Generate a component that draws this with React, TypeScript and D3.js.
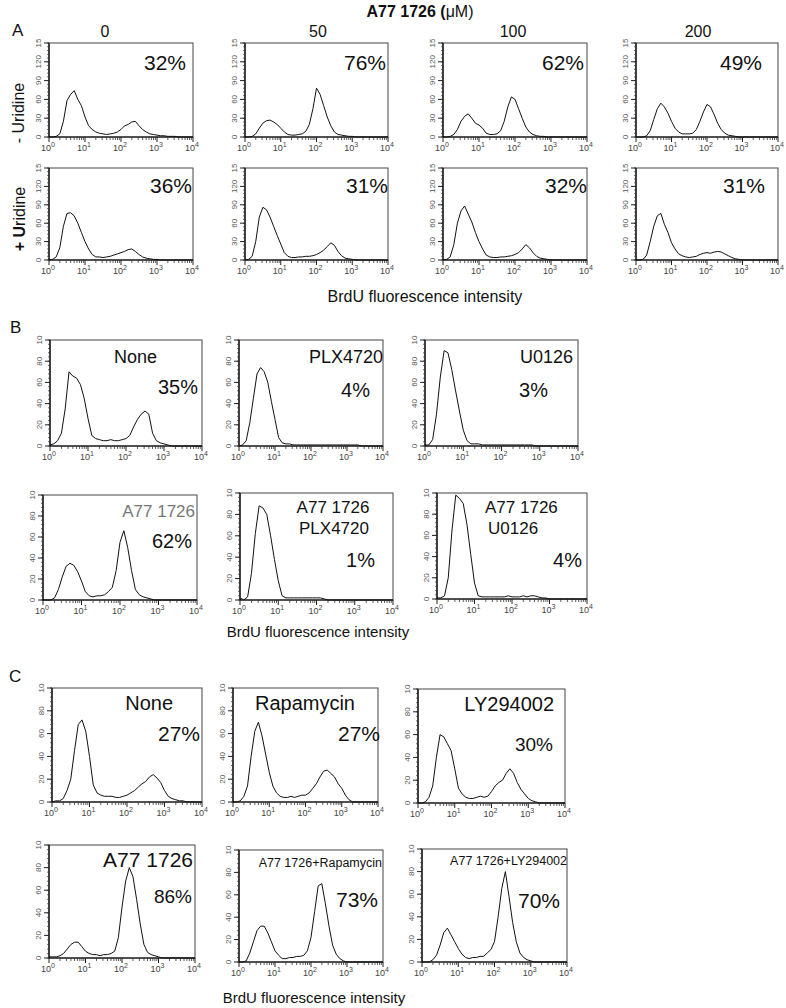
import React from 'react';
import * as d3 from 'd3';

const FONT = "'Liberation Sans', Arial, Helvetica, sans-serif";

// log10 of BrdU fluorescence intensity at which histogram counts are read
const BINS = [0, 0.1, 0.2, 0.3, 0.4, 0.5, 0.6, 0.7, 0.8, 0.9, 1.0, 1.1, 1.2, 1.3, 1.4, 1.5, 1.6, 1.7, 1.8, 1.9, 2.0, 2.1, 2.2, 2.3, 2.4, 2.5, 2.6, 2.7, 2.8, 2.9, 3.0, 3.1, 3.2, 3.3, 3.4, 3.5, 3.6, 3.7, 3.8, 3.9, 4.0];

const X_DECADES = [1, 10, 100, 1000, 10000];
const X_EXPONENTS = ['0', '1', '2', '3', '4'];
const Y_TICKS_A = [0, 30, 60, 90, 120, 150];
const Y_LABELS_A = ['0', '30', '60', '90', '120', '15'];
const Y_TICKS_BC = [0, 20, 40, 60, 80, 100];
const Y_LABELS_BC = ['0', '20', '40', '60', '80', '10'];

// Panel A: A77 1726 dose (µM) without / with uridine
const A_DOSES = ['0', '50', '100', '200'];
const A_minusU_0 = [0, 0, 1, 5, 25, 58, 68, 74, 60, 50, 32, 18, 12, 8, 6, 5, 4, 5, 6, 8, 12, 18, 20, 24, 25, 18, 12, 8, 5, 4, 3, 2, 2, 1, 1, 1, 0, 0, 0, 0, 0];
const A_minusU_50 = [0, 0, 1, 5, 14, 22, 26, 27, 24, 20, 14, 8, 4, 3, 3, 4, 5, 9, 20, 45, 78, 68, 50, 32, 18, 8, 4, 3, 2, 1, 1, 0, 0, 0, 0, 0, 0, 0, 0, 0, 0];
const A_minusU_100 = [0, 0, 1, 4, 12, 25, 33, 37, 30, 22, 19, 14, 6, 4, 4, 5, 10, 25, 48, 64, 60, 45, 30, 16, 8, 4, 2, 1, 1, 0, 0, 0, 0, 0, 0, 0, 0, 0, 0, 0, 0];
const A_minusU_200 = [0, 0, 0, 2, 10, 28, 45, 54, 48, 38, 25, 14, 8, 5, 5, 5, 6, 12, 25, 40, 52, 48, 36, 22, 12, 6, 3, 2, 1, 0, 0, 0, 0, 0, 0, 0, 0, 0, 0, 0, 0];
const A_plusU_0 = [0, 1, 5, 20, 55, 76, 77, 72, 60, 45, 30, 18, 9, 5, 5, 4, 5, 6, 8, 10, 12, 14, 17, 18, 14, 9, 5, 3, 2, 1, 1, 0, 0, 0, 0, 0, 0, 0, 0, 0, 0];
const A_plusU_50 = [0, 1, 6, 30, 70, 86, 82, 70, 55, 40, 26, 12, 6, 4, 4, 5, 5, 6, 6, 7, 9, 12, 16, 22, 28, 24, 14, 7, 3, 2, 1, 0, 0, 0, 0, 0, 0, 0, 0, 0, 0];
const A_plusU_100 = [0, 1, 5, 25, 60, 80, 88, 75, 62, 45, 30, 18, 8, 5, 4, 4, 5, 5, 6, 7, 9, 12, 18, 25, 20, 12, 6, 3, 2, 1, 0, 0, 0, 0, 0, 0, 0, 0, 0, 0, 0];
const A_plusU_200 = [0, 0, 1, 8, 30, 55, 72, 76, 58, 45, 28, 18, 10, 7, 5, 4, 5, 6, 9, 11, 12, 11, 13, 14, 13, 10, 7, 4, 2, 1, 0, 0, 0, 0, 0, 0, 0, 0, 0, 0, 0];
const A_PCT = ['32%', '76%', '62%', '49%', '36%', '31%', '32%', '31%'];

// Panel B: MEK / BRAF inhibitors
const B_None = [1, 2, 5, 12, 35, 70, 66, 64, 58, 45, 26, 10, 7, 6, 5, 5, 6, 5, 5, 6, 7, 10, 18, 25, 30, 33, 30, 12, 5, 3, 2, 1, 0, 0, 0, 0, 0, 0, 0, 0, 0];
const B_PLX = [0, 1, 5, 22, 45, 68, 74, 70, 60, 42, 25, 8, 3, 2, 2, 1, 1, 1, 1, 1, 1, 1, 1, 1, 1, 1, 1, 1, 1, 1, 1, 1, 1, 1, 0, 0, 0, 0, 0, 0, 0];
const B_U0126 = [1, 1, 6, 30, 65, 90, 88, 72, 52, 33, 15, 5, 2, 2, 2, 1, 1, 1, 1, 1, 1, 1, 1, 1, 1, 1, 1, 1, 1, 0, 0, 0, 0, 0, 0, 0, 0, 0, 0, 0, 0];
const B_A77 = [0, 0, 0, 2, 10, 22, 32, 35, 33, 27, 18, 8, 4, 3, 4, 4, 5, 8, 12, 28, 55, 66, 50, 28, 10, 5, 3, 2, 1, 0, 0, 0, 0, 0, 0, 0, 0, 0, 0, 0, 0];
const B_A77_PLX = [2, 0, 3, 25, 62, 88, 86, 80, 60, 38, 18, 4, 2, 2, 2, 2, 2, 2, 2, 2, 2, 2, 1, 0, 0, 0, 0, 0, 0, 0, 0, 0, 0, 0, 0, 0, 0, 0, 0, 0, 0];
const B_A77_U0126 = [1, 1, 3, 20, 65, 98, 95, 90, 70, 42, 15, 3, 2, 2, 2, 2, 2, 2, 2, 3, 2, 2, 2, 3, 2, 3, 3, 2, 1, 1, 0, 0, 0, 0, 0, 0, 0, 0, 0, 0, 0];
const B_PCT = ['35%', '4%', '3%', '62%', '1%', '4%'];

// Panel C: mTOR / PI3K inhibitors
const C_None = [0, 1, 1, 3, 10, 20, 45, 68, 72, 62, 40, 15, 8, 6, 5, 5, 5, 4, 4, 5, 6, 8, 10, 13, 16, 18, 22, 24, 21, 17, 10, 5, 3, 2, 1, 1, 0, 0, 0, 0, 0];
const C_Rapa = [0, 0, 1, 5, 14, 40, 62, 70, 58, 42, 26, 14, 8, 5, 4, 4, 5, 4, 5, 6, 6, 8, 12, 16, 22, 27, 28, 25, 22, 16, 12, 6, 2, 0, 0, 0, 0, 0, 0, 0, 0];
const C_LY = [0, 0, 1, 5, 15, 40, 60, 58, 52, 46, 30, 13, 8, 5, 4, 4, 5, 6, 5, 6, 10, 15, 18, 20, 26, 30, 26, 18, 12, 8, 4, 2, 1, 0, 0, 0, 0, 0, 0, 0, 0];
const C_A77 = [1, 1, 1, 2, 4, 8, 12, 14, 14, 10, 6, 4, 3, 3, 2, 3, 3, 4, 6, 18, 45, 68, 80, 72, 52, 30, 12, 5, 3, 2, 1, 0, 0, 0, 0, 0, 0, 0, 0, 0, 0];
const C_A77_Rapa = [0, 0, 1, 8, 18, 28, 32, 32, 26, 18, 10, 6, 3, 3, 4, 4, 5, 5, 6, 10, 22, 45, 68, 70, 52, 32, 15, 7, 3, 1, 0, 0, 0, 0, 0, 0, 0, 0, 0, 0, 0];
const C_A77_LY = [0, 0, 0, 2, 6, 15, 26, 30, 24, 18, 12, 7, 4, 3, 4, 4, 5, 5, 8, 11, 18, 40, 65, 80, 58, 35, 18, 8, 4, 2, 1, 0, 0, 0, 0, 0, 0, 0, 0, 0, 0];
const C_PCT = ['27%', '27%', '30%', '86%', '73%', '70%'];

type Lbl = { t: string; x: number; y: number; s: number; a?: string; fill?: string };
type P = { box: [number, number, number, number]; scale: 'A' | 'BC'; data: number[]; labels: Lbl[] };

const PANELS: P[] = [
  { box: [49, 43, 193, 137], scale: 'A', data: A_minusU_0, labels: [{ t: A_PCT[0], x: 186, y: 70, s: 21 }] },
  { box: [245, 43, 388, 137], scale: 'A', data: A_minusU_50, labels: [{ t: A_PCT[1], x: 386, y: 70, s: 21 }] },
  { box: [443, 43, 587, 137], scale: 'A', data: A_minusU_100, labels: [{ t: A_PCT[2], x: 584, y: 70, s: 21 }] },
  { box: [636, 43, 778, 137], scale: 'A', data: A_minusU_200, labels: [{ t: A_PCT[3], x: 762, y: 70, s: 21 }] },
  { box: [49, 168, 193, 260], scale: 'A', data: A_plusU_0, labels: [{ t: A_PCT[4], x: 192, y: 193, s: 21 }] },
  { box: [245, 168, 388, 260], scale: 'A', data: A_plusU_50, labels: [{ t: A_PCT[5], x: 388, y: 193, s: 21 }] },
  { box: [443, 168, 587, 260], scale: 'A', data: A_plusU_100, labels: [{ t: A_PCT[6], x: 587, y: 193, s: 21 }] },
  { box: [636, 168, 778, 260], scale: 'A', data: A_plusU_200, labels: [{ t: A_PCT[7], x: 765, y: 193, s: 21 }] },

  { box: [50, 340, 202, 446], scale: 'BC', data: B_None, labels: [{ t: 'None', x: 157, y: 363, s: 18 }, { t: B_PCT[0], x: 198, y: 394, s: 20 }] },
  { box: [239, 340, 383, 446], scale: 'BC', data: B_PLX, labels: [{ t: 'PLX4720', x: 383, y: 363, s: 18 }, { t: B_PCT[1], x: 370, y: 397, s: 20 }] },
  { box: [425, 340, 578, 446], scale: 'BC', data: B_U0126, labels: [{ t: 'U0126', x: 573, y: 363, s: 18 }, { t: B_PCT[2], x: 548, y: 397, s: 20 }] },
  { box: [43, 495, 197, 600], scale: 'BC', data: B_A77, labels: [{ t: 'A77 1726', x: 195, y: 517, s: 17, fill: '#777' }, { t: B_PCT[3], x: 192, y: 548, s: 20 }] },
  { box: [240, 493, 393, 600], scale: 'BC', data: B_A77_PLX, labels: [{ t: 'A77 1726', x: 333, y: 513, s: 17, a: 'middle' }, { t: 'PLX4720', x: 334, y: 534, s: 17, a: 'middle' }, { t: B_PCT[4], x: 375, y: 567, s: 20 }] },
  { box: [437, 493, 587, 599], scale: 'BC', data: B_A77_U0126, labels: [{ t: 'A77 1726', x: 485, y: 513, s: 17, a: 'start' }, { t: 'U0126', x: 488, y: 534, s: 17, a: 'start' }, { t: B_PCT[5], x: 582, y: 567, s: 20 }] },

  { box: [52, 688, 202, 802], scale: 'BC', data: C_None, labels: [{ t: 'None', x: 173, y: 710, s: 20 }, { t: C_PCT[0], x: 200, y: 741, s: 21 }] },
  { box: [233, 688, 378, 802], scale: 'BC', data: C_Rapa, labels: [{ t: 'Rapamycin', x: 355, y: 710, s: 20 }, { t: C_PCT[1], x: 380, y: 741, s: 21 }] },
  { box: [418, 689, 565, 803], scale: 'BC', data: C_LY, labels: [{ t: 'LY294002', x: 554, y: 711, s: 20 }, { t: C_PCT[2], x: 553, y: 751, s: 19 }] },
  { box: [49, 845, 195, 958], scale: 'BC', data: C_A77, labels: [{ t: 'A77 1726', x: 193, y: 867, s: 21 }, { t: C_PCT[3], x: 192, y: 903, s: 19 }] },
  { box: [239, 850, 383, 962], scale: 'BC', data: C_A77_Rapa, labels: [{ t: 'A77 1726+Rapamycin', x: 382, y: 867, s: 12.5 }, { t: C_PCT[4], x: 378, y: 907, s: 21 }] },
  { box: [422, 849, 567, 962], scale: 'BC', data: C_A77_LY, labels: [{ t: 'A77 1726+LY294002', x: 567, y: 865, s: 12.5 }, { t: C_PCT[5], x: 560, y: 908, s: 21 }] },
];

function Panel({ p }: { p: P }) {
  const [l, t, r, b] = p.box;
  const yTicks = p.scale === 'A' ? Y_TICKS_A : Y_TICKS_BC;
  const yLabels = p.scale === 'A' ? Y_LABELS_A : Y_LABELS_BC;
  const yMax = yTicks[yTicks.length - 1];
  const x = d3.scaleLog().domain([1, 10000]).range([l, r]);
  const y = d3.scaleLinear().domain([0, yMax]).range([b, t]);
  const line = d3
    .line<number>()
    .x((_, i) => x(Math.pow(10, BINS[i])))
    .y((v) => y(v));
  const minorX = x.ticks().filter((v) => !X_DECADES.includes(v));
  const minorY = d3.range(0, yMax + 0.001, yMax / 25);
  return (
    <g>
      <rect x={l} y={t} width={r - l} height={b - t} fill="none" stroke="#444" strokeWidth={1} />
      <line x1={l} x2={l} y1={t} y2={b} stroke="#000" strokeWidth={1.2} />
      <line x1={l} x2={r} y1={b} y2={b} stroke="#000" strokeWidth={1.2} />
      {minorY.map((v, i) => (
        <line key={'my' + i} x1={l - 2} x2={l} y1={y(v)} y2={y(v)} stroke="#333" strokeWidth={0.7} />
      ))}
      {yTicks.map((v, i) => (
        <g key={'y' + i}>
          <line x1={l - 5} x2={l} y1={y(v)} y2={y(v)} stroke="#222" strokeWidth={1} />
          <text
            transform={`translate(${l - 8},${y(v)}) rotate(-90)`}
            textAnchor="middle"
            fontSize={8}
            fill="#555"
            fontFamily={FONT}
          >
            {yLabels[i]}
          </text>
        </g>
      ))}
      {minorX.map((v, i) => (
        <line key={'mx' + i} x1={x(v)} x2={x(v)} y1={b} y2={b + 3} stroke="#333" strokeWidth={0.8} />
      ))}
      {X_DECADES.map((v, i) => (
        <g key={'x' + i}>
          <line x1={x(v)} x2={x(v)} y1={b} y2={b + 5} stroke="#222" strokeWidth={1} />
          <text x={x(v) - 1} y={b + 14} textAnchor="middle" fontSize={9} fill="#444" fontFamily={FONT}>
            10
            <tspan dy={-4} fontSize={7}>
              {X_EXPONENTS[i]}
            </tspan>
          </text>
        </g>
      ))}
      <path d={line(p.data) || ''} fill="none" stroke="#111" strokeWidth={1} strokeLinejoin="round" />
      {p.labels.map((lb, i) => (
        <text
          key={'l' + i}
          x={lb.x}
          y={lb.y}
          textAnchor={lb.a || 'end'}
          fontSize={lb.s}
          fill={lb.fill || '#111'}
          fontFamily={FONT}
        >
          {lb.t}
        </text>
      ))}
    </g>
  );
}

const A_HEADER_X = [105, 318, 513, 698];

export default function App() {
  return (
    <svg
      width={786}
      height={1008}
      style={{ position: 'absolute', left: 0, top: 0, background: '#fff' }}
      fontFamily={FONT}
    >
      <rect x={0} y={0} width={786} height={1008} fill="#fff" />
      <text x={420} y={17} textAnchor="middle" fontSize={16} fill="#111">
        <tspan fontWeight="bold">A77 1726 (</tspan>
        <tspan>μM)</tspan>
      </text>
      <text x={12} y={36} fontSize={17} fill="#111">A</text>
      {A_DOSES.map((d, i) => (
        <text key={d} x={A_HEADER_X[i]} y={37} textAnchor="middle" fontSize={16} fill="#111">
          {d}
        </text>
      ))}
      <text transform="translate(24,113) rotate(-90)" textAnchor="middle" fontSize={16} fill="#111">
        - Uridine
      </text>
      <text transform="translate(25,219) rotate(-90)" textAnchor="middle" fontSize={16} fill="#111">
        <tspan fontWeight="bold">+ U</tspan>
        <tspan>ridine</tspan>
      </text>
      <text x={425} y={302} textAnchor="middle" fontSize={16} fill="#111">
        BrdU fluorescence intensity
      </text>

      <text x={10} y={333} fontSize={17} fill="#111">B</text>
      <text x={318} y={637} textAnchor="middle" fontSize={15} fill="#111">
        BrdU fluorescence intensity
      </text>

      <text x={9} y={682} fontSize={17} fill="#111">C</text>
      <text x={314} y={1003} textAnchor="middle" fontSize={15} fill="#111">
        BrdU fluorescence intensity
      </text>

      {PANELS.map((p, i) => (
        <Panel key={i} p={p} />
      ))}
    </svg>
  );
}
